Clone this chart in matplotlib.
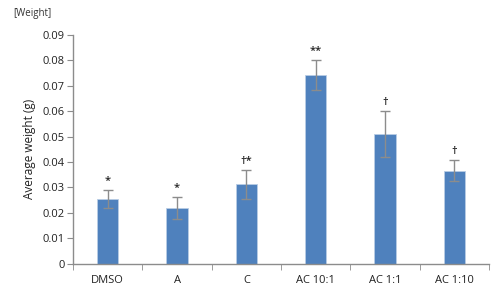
import matplotlib
matplotlib.use("Agg")
import matplotlib.pyplot as plt
import numpy as np

categories = ["DMSO", "A", "C", "AC 10:1", "AC 1:1", "AC 1:10"]
values = [0.0254, 0.0219, 0.0312, 0.0743, 0.0509, 0.0366]
errors = [0.0037, 0.0042, 0.0058, 0.0060, 0.0090, 0.0041]
marks = ["*", "*", "†*", "**", "†", "†"]
yticks = [0, 0.01, 0.02, 0.03, 0.04, 0.05, 0.06, 0.07, 0.08, 0.09]
ytick_labels = ["0", "0.01", "0.02", "0.03", "0.04", "0.05", "0.06", "0.07", "0.08", "0.09"]

plt.rcParams['font.family'] = ['Open Sans', 'DejaVu Sans']

fig = plt.figure(figsize=(5.0, 2.91), dpi=100)
ax = fig.add_axes([0.146, 0.094, 0.832, 0.786])

x = np.arange(len(categories))
ax.bar(x, values, width=0.31, color="#4F81BD", edgecolor="#B9CDE5", linewidth=0.6, zorder=2)
ax.errorbar(x, values, yerr=errors, fmt="none", ecolor="#8C8C8C", elinewidth=1.0,
            capsize=3.5, capthick=1.0, zorder=3)
for xi, v, e, m in zip(x, values, errors, marks):
    ax.text(xi, v + e + 0.0012, m, ha="center", va="bottom", fontsize=8,
            fontweight="semibold", color="#222222")

ax.set_xlim(-0.5, len(categories) - 0.5)
ax.set_ylim(0, 0.09)
ax.set_yticks(yticks)
ax.set_yticklabels(ytick_labels, fontsize=8, color="#222222")
ax.set_xticks(x)
ax.set_xticklabels(categories, fontsize=8, color="#222222")
ax.set_xticks(np.arange(len(categories) + 1) - 0.5, minor=True)
ax.tick_params(axis="x", which="major", length=0, pad=8)
ax.tick_params(axis="x", which="minor", length=4, color="#8C8C8C", direction="out")
ax.tick_params(axis="y", length=4, color="#8C8C8C", pad=2)
for s in ["top", "right"]:
    ax.spines[s].set_visible(False)
for s in ["left", "bottom"]:
    ax.spines[s].set_color("#8C8C8C")
    ax.spines[s].set_linewidth(1.0)
ax.set_ylabel("Average weight (g)", fontsize=8.5, color="#222222", labelpad=5)
fig.text(0.026, 0.955, "[Weight]", fontsize=7, color="#333333", va="center")

fig.savefig("out.png", dpi=100)
